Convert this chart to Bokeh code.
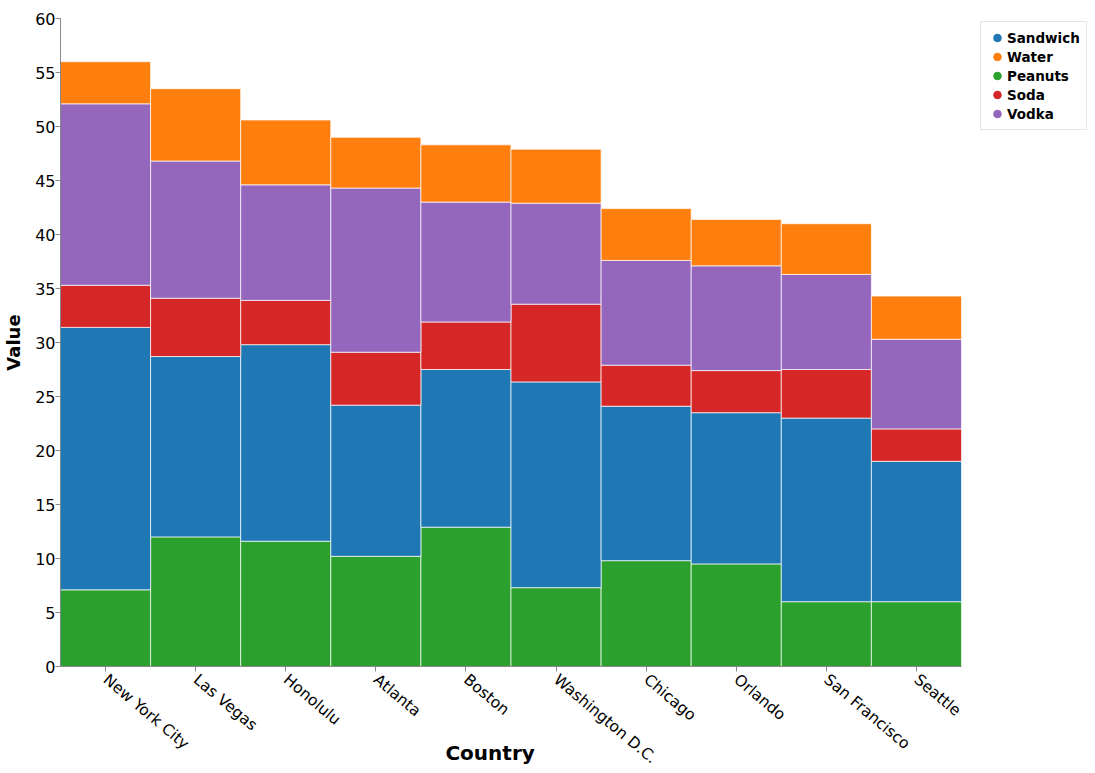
from bokeh.plotting import figure
from bokeh.models import ColumnDataSource, FactorRange, Range1d, Legend, LegendItem, FixedTicker
from bokeh.embed import file_html
from bokeh.resources import INLINE

cities = ["New York City", "Las Vegas", "Honolulu", "Atlanta", "Boston",
          "Washington D.C.", "Chicago", "Orlando", "San Francisco", "Seattle"]
peanuts = [7.1, 12.0, 11.6, 10.2, 12.9, 7.3, 9.8, 9.5, 6.0, 6.0]
sandwich = [24.3, 16.7, 18.2, 14.0, 14.6, 19.05, 14.3, 14.0, 17.0, 13.0]
soda = [3.9, 5.4, 4.1, 4.9, 4.4, 7.2, 3.8, 3.9, 4.5, 3.0]
vodka = [16.8, 12.7, 10.7, 15.2, 11.1, 9.35, 9.7, 9.7, 8.8, 8.3]
water = [3.9, 6.7, 6.0, 4.7, 5.3, 5.0, 4.8, 4.3, 4.7, 4.0]

stack_order = ["Peanuts", "Sandwich", "Soda", "Vodka", "Water"]
legend_order = ["Sandwich", "Water", "Peanuts", "Soda", "Vodka"]
colors = {"Sandwich": "#1f77b4", "Water": "#ff7f0e", "Peanuts": "#2ca02c",
          "Soda": "#d62728", "Vodka": "#9467bd"}

source = ColumnDataSource(data=dict(city=cities, Peanuts=peanuts, Sandwich=sandwich,
                                    Soda=soda, Vodka=vodka, Water=water))

p = figure(x_range=FactorRange(*cities, range_padding=0), y_range=Range1d(0, 60),
           frame_width=901, frame_height=648, min_border_left=60, min_border_top=18,
           min_border_right=126, min_border_bottom=99,
           output_backend="svg", toolbar_location=None)

p.vbar_stack(stack_order, x="city", width=1.0, source=source,
             color=[colors[s] for s in stack_order],
             line_color="white", line_alpha=0.7, line_width=1)

p.outline_line_color = None
p.xgrid.grid_line_color = None
p.ygrid.grid_line_color = None

for ax in (p.xaxis[0], p.yaxis[0]):
    ax.axis_line_color = "#888888"
    ax.major_tick_line_color = "#888888"
    ax.major_tick_out = 5
    ax.major_tick_in = 0
    ax.minor_tick_line_color = None
    ax.major_label_text_font = "DejaVu Sans"
    ax.major_label_text_color = "black"
    ax.axis_label_text_font = "DejaVu Sans"
    ax.axis_label_text_font_style = "bold"
    ax.axis_label_text_color = "black"

p.yaxis.ticker = FixedTicker(ticks=list(range(0, 61, 5)))
p.yaxis.major_label_text_font_size = "16px"
p.yaxis.major_label_standoff = 0
p.yaxis.axis_label = "Value"
p.yaxis.axis_label_text_font_size = "18px"
p.yaxis.axis_label_standoff = 8

p.xaxis.major_label_orientation = -0.7
p.xaxis.major_label_text_font_size = "15.5px"
p.xaxis.major_label_standoff = 6
p.xaxis.axis_label = "Country" + "\u00a0" * 6
p.xaxis.axis_label_text_font_size = "20px"
p.xaxis.axis_label_standoff = -36

series = {"Peanuts": peanuts, "Sandwich": sandwich, "Soda": soda,
          "Vodka": vodka, "Water": water}
items = []
for name in legend_order:
    r = p.scatter(x=cities, y=series[name], marker="circle", color=colors[name],
                  size=10, visible=False)
    items.append(LegendItem(label=name, renderers=[r]))

legend = Legend(items=items, location=(19, 648 - 1 - 107 - 4), margin=0,
                label_text_font="DejaVu Sans", label_text_font_style="bold",
                label_text_font_size="13.5px", label_text_color="black",
                label_height=19, glyph_height=19,
                glyph_width=20, spacing=0, padding=6, label_standoff=-2,
                inactive_fill_alpha=0.0,
                border_line_color="#cccccc", border_line_width=1,
                background_fill_color="white", background_fill_alpha=1.0)
p.add_layout(legend, "right")

open("out.html", "w").write(file_html(p, INLINE))
